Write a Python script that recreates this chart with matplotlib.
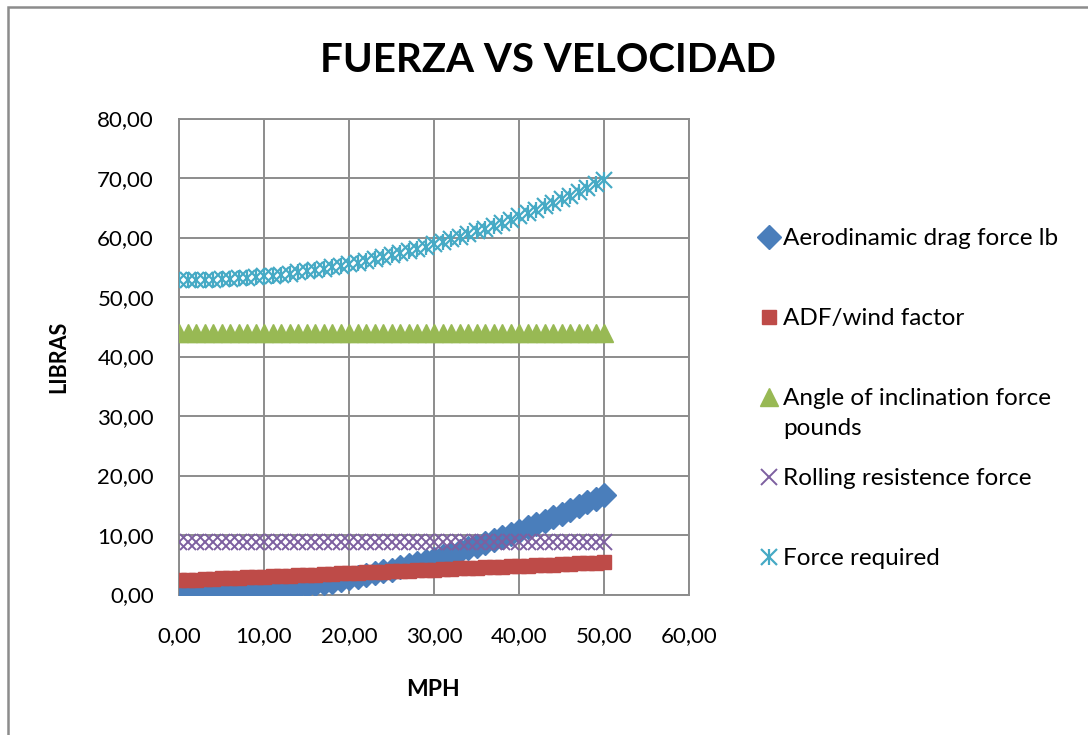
import matplotlib.pyplot as plt
from matplotlib.lines import Line2D
from matplotlib.patches import Rectangle
from matplotlib.ticker import FuncFormatter, MultipleLocator

plt.rcParams['font.family'] = ['Lato', 'DejaVu Sans']

# datos (v = 0..50 mph)
mph = [0, 1, 2, 3, 4, 5, 6, 7, 8, 9, 10, 11, 12, 13, 14, 15, 16, 17, 18, 19, 20,
       21, 22, 23, 24, 25, 26, 27, 28, 29, 30, 31, 32, 33, 34, 35, 36, 37, 38, 39, 40,
       41, 42, 43, 44, 45, 46, 47, 48, 49, 50]

drag = [0.00, 0.01, 0.03, 0.06, 0.11, 0.17, 0.24, 0.33, 0.43, 0.54, 0.67,
        0.81, 0.97, 1.14, 1.32, 1.51, 1.72, 1.94, 2.18, 2.43, 2.69,
        2.96, 3.25, 3.55, 3.87, 4.20, 4.54, 4.90, 5.27, 5.65, 6.05,
        6.46, 6.88, 7.32, 7.77, 8.23, 8.71, 9.20, 9.70, 10.22, 10.75,
        11.30, 11.85, 12.43, 13.01, 13.61, 14.22, 14.84, 15.48, 16.13, 16.80]

adf_wind = [2.40, 2.46, 2.52, 2.58, 2.64, 2.70, 2.76, 2.82, 2.88, 2.94, 3.00,
            3.06, 3.12, 3.18, 3.24, 3.30, 3.36, 3.42, 3.48, 3.54, 3.60,
            3.66, 3.72, 3.78, 3.84, 3.90, 3.96, 4.02, 4.08, 4.14, 4.20,
            4.26, 4.32, 4.38, 4.44, 4.50, 4.56, 4.62, 4.68, 4.74, 4.80,
            4.86, 4.92, 4.98, 5.04, 5.10, 5.16, 5.22, 5.28, 5.34, 5.40]

angle_force = [44.00, 44.00, 44.00, 44.00, 44.00, 44.00, 44.00, 44.00, 44.00, 44.00, 44.00,
               44.00, 44.00, 44.00, 44.00, 44.00, 44.00, 44.00, 44.00, 44.00, 44.00,
               44.00, 44.00, 44.00, 44.00, 44.00, 44.00, 44.00, 44.00, 44.00, 44.00,
               44.00, 44.00, 44.00, 44.00, 44.00, 44.00, 44.00, 44.00, 44.00, 44.00,
               44.00, 44.00, 44.00, 44.00, 44.00, 44.00, 44.00, 44.00, 44.00, 44.00]

rolling = [8.80, 8.80, 8.80, 8.80, 8.80, 8.80, 8.80, 8.80, 8.80, 8.80, 8.80,
           8.80, 8.80, 8.80, 8.80, 8.80, 8.80, 8.80, 8.80, 8.80, 8.80,
           8.80, 8.80, 8.80, 8.80, 8.80, 8.80, 8.80, 8.80, 8.80, 8.80,
           8.80, 8.80, 8.80, 8.80, 8.80, 8.80, 8.80, 8.80, 8.80, 8.80,
           8.80, 8.80, 8.80, 8.80, 8.80, 8.80, 8.80, 8.80, 8.80, 8.80]

force_req = [52.80, 52.81, 52.83, 52.86, 52.91, 52.97, 53.04, 53.13, 53.23, 53.34, 53.47,
             53.61, 53.77, 53.94, 54.12, 54.31, 54.52, 54.74, 54.98, 55.23, 55.49,
             55.76, 56.05, 56.35, 56.67, 57.00, 57.34, 57.70, 58.07, 58.45, 58.85,
             59.26, 59.68, 60.12, 60.57, 61.03, 61.51, 62.00, 62.50, 63.02, 63.55,
             64.10, 64.65, 65.23, 65.81, 66.41, 67.02, 67.64, 68.28, 68.93, 69.60]

labels = ["Aerodinamic drag force lb", "ADF/wind factor",
          "Angle of inclination force\npounds", "Rolling resistence force",
          "Force required"]

W, H = 1088, 735
fig = plt.figure(figsize=(W / 100, H / 100), dpi=100)
# marco del grafico (solo se ven borde izq. y sup.)
fig.patches.append(Rectangle((8 / W, -0.1), 1.2, 1 - 7 / H + 0.1,
                             transform=fig.transFigure, fill=False,
                             edgecolor="#8c8c8c", linewidth=1.8))

ax = fig.add_axes([179 / W, 1 - 594.5 / H, 510 / W, 476 / H])

estilos = [
    dict(marker="D", color="#4a7ebb", ms=12),
    dict(marker="s", color="#be4b48", ms=10.5),
    dict(marker="^", color="#98b954", ms=12.5),
    dict(marker="x", color="#7d60a0", ms=11, mew=1.4),
    dict(marker="x", color="#46aac5", ms=12, mew=1.6),
]
series = [drag, adf_wind, angle_force, rolling, force_req]

for i, (ys, st) in enumerate(zip(series, estilos)):
    ax.plot(mph, ys, ls="none", zorder=3 + i, **st)
# la estrella de Excel: x + barra vertical
ax.plot(mph, force_req, "|", color="#46aac5", ms=12, mew=1.6, ls="none", zorder=7)

ax.set_xlim(0, 60)
ax.set_ylim(0, 80)
ax.xaxis.set_major_locator(MultipleLocator(10))
ax.yaxis.set_major_locator(MultipleLocator(10))
fmt = FuncFormatter(lambda v, p: f"{v:.2f}".replace(".", ","))
ax.xaxis.set_major_formatter(fmt)
ax.yaxis.set_major_formatter(fmt)
ax.tick_params(length=0, labelsize=16)
ax.tick_params(axis="y", pad=18)
ax.tick_params(axis="x", pad=23)
ax.grid(True, color="#8c8c8c", linewidth=1.4)
ax.set_axisbelow(True)
for s in ax.spines.values():
    s.set_color("#8c8c8c")
    s.set_linewidth(1.4)

fig.text(433 / W, 1 - 690 / H, "MPH", fontsize=16.5, fontweight="bold",
         ha="center", va="center")
fig.text(59 / W, 1 - 357 / H, "LIBRAS", fontsize=15.5, fontweight="bold",
         ha="center", va="center", rotation=90)
fig.text(548 / W, 1 - 61 / H, "FUERZA VS VELOCIDAD", fontsize=29,
         fontweight="bold", ha="center", va="center")

# leyenda a mano (marcador alineado con la primera linea)
ley_y = [237, 317, 397, 477, 557]
for lab, st, yy in zip(labels, estilos, ley_y):
    fy = 1 - yy / H
    fig.add_artist(Line2D([769 / W], [fy], transform=fig.transFigure, ls="none", **st))
    if st is estilos[4]:
        fig.add_artist(Line2D([769 / W], [fy], transform=fig.transFigure, ls="none",
                              marker="|", color="#46aac5", ms=12, mew=1.6))
    fig.text(783 / W, fy + 9 / H, lab, fontsize=17.5, ha="left", va="top",
             linespacing=1.55)

fig.savefig("out.png", dpi=100)
